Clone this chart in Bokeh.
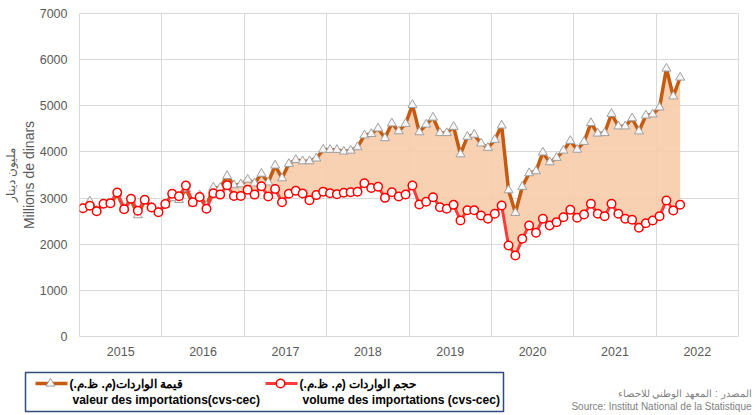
from bokeh.plotting import figure
from bokeh.models import Range1d, FixedTicker, LinearAxis
from bokeh.layouts import column, row
from bokeh.embed import file_html
from bokeh.resources import INLINE
from bokeh.core.properties import value

# ---- data (monthly, Jan 2015 - Apr 2022), millions of dinars ----
years = ["2015", "2016", "2017", "2018", "2019", "2020", "2021", "2022"]

valeur_2015 = [2780, 2930, 2730, 2860, 2880, 3090, 2770, 2960, 2630, 2950, 2800, 2700]
valeur_2016 = [2850, 3000, 2960, 3200, 2880, 3060, 2830, 3230, 3220, 3480, 3280, 3300]
valeur_2017 = [3400, 3320, 3530, 3340, 3706, 3430, 3742, 3829, 3800, 3800, 3860, 4050]
valeur_2018 = [4046, 4046, 4010, 4030, 4104, 4360, 4390, 4510, 4300, 4620, 4450, 4610]
valeur_2019 = [5020, 4428, 4595, 4745, 4410, 4410, 4545, 3950, 4330, 4375, 4185, 4090]
valeur_2020 = [4263, 4573, 3170, 2680, 3245, 3540, 3583, 3990, 3778, 3873, 4030, 4240]
valeur_2021 = [4050, 4220, 4627, 4400, 4410, 4827, 4555, 4555, 4731, 4447, 4790, 4815]
valeur_2022 = [4965, 5808, 5205, 5613]

volume_2015 = [2781, 2832, 2716, 2876, 2890, 3121, 2760, 2984, 2724, 2962, 2796, 2694]
volume_2016 = [2870, 3095, 3040, 3273, 2910, 3025, 2768, 3106, 3075, 3277, 3045, 3045]
volume_2017 = [3179, 3075, 3255, 3034, 3197, 2911, 3093, 3157, 3100, 2955, 3064, 3139]
volume_2018 = [3106, 3085, 3117, 3128, 3136, 3323, 3218, 3244, 3005, 3128, 3034, 3078]
volume_2019 = [3273, 2861, 2922, 3019, 2802, 2768, 2853, 2514, 2738, 2738, 2622, 2551]
volume_2020 = [2659, 2839, 1972, 1756, 2117, 2406, 2247, 2551, 2406, 2478, 2586, 2746]
volume_2021 = [2572, 2644, 2876, 2659, 2608, 2876, 2659, 2551, 2529, 2356, 2456, 2514]
volume_2022 = [2608, 2948, 2731, 2854]

y_ticks = [0, 1000, 2000, 3000, 4000, 5000, 6000, 7000]

label_valeur_ar = "قيمة  الواردات(م. ظ.م.)"
label_valeur_fr = "valeur des importations(cvs-cec)"
label_volume_ar = "حجم الواردات (م. ظ.م.)"
label_volume_fr = "volume des importations (cvs-cec)"
y_title_ar = "مليون دينار"
y_title_fr = "Millions de dinars"
source_ar = "المصدر : المعهد الوطني للاحصاء"
source_fr = "Source: Institut National de la Statistique"

valeur = (valeur_2015 + valeur_2016 + valeur_2017 + valeur_2018 +
          valeur_2019 + valeur_2020 + valeur_2021 + valeur_2022)
volume = (volume_2015 + volume_2016 + volume_2017 + volume_2018 +
          volume_2019 + volume_2020 + volume_2021 + volume_2022)
x = [m + 0.5 for m in range(len(valeur))]
n_months = 12 * len(years)

FONT = "Liberation Sans"
C_VAL = "#C55A11"
C_VOL = "#FF3B3B"
C_FILL = "#F7CBAA"
W = 754

# ---- main chart ----
p = figure(width=W, height=364, output_backend="svg", toolbar_location=None,
           x_range=Range1d(0, n_months), y_range=Range1d(0, 7000),
           min_border_left=79, min_border_right=W - 738, min_border_top=13,
           min_border_bottom=28)
p.outline_line_color = "#D9D9D9"
p.background_fill_color = "white"
p.border_fill_color = "white"

p.xgrid.ticker = FixedTicker(ticks=list(range(0, n_months + 1, 12)))
p.ygrid.ticker = FixedTicker(ticks=y_ticks)
for g in (p.xgrid, p.ygrid):
    g.grid_line_color = "#D9D9D9"
    g.grid_line_width = 1

p.xaxis.ticker = FixedTicker(ticks=[12 * i + 6 for i in range(len(years))])
p.xaxis.major_label_overrides = {12 * i + 6: y for i, y in enumerate(years)}
p.yaxis.ticker = FixedTicker(ticks=y_ticks)

# outer axis carrying only the Arabic title
ar_axis = LinearAxis(ticker=FixedTicker(ticks=[]), axis_label=y_title_ar)
p.add_layout(ar_axis, "left")

for ax in (p.xaxis[0], p.yaxis[0], ar_axis):
    ax.axis_line_color = None
    ax.major_tick_line_color = None
    ax.minor_tick_line_color = None
    ax.major_tick_out = 0
    ax.major_tick_in = 0
    ax.minor_tick_out = 0
    ax.major_label_text_font = FONT
    ax.major_label_text_font_size = "12.5px"
    ax.major_label_text_color = "#595959"
    ax.axis_label_text_font = FONT
    ax.axis_label_text_font_style = "normal"
    ax.axis_label_text_color = "#595959"
p.yaxis[0].major_label_standoff = 12
p.xaxis[0].major_label_standoff = 10
p.yaxis[0].axis_label = y_title_fr
p.yaxis[0].axis_label_text_font_size = "14px"
p.yaxis[0].axis_label_standoff = 0
ar_axis.axis_label_text_font_size = "12px"
ar_axis.axis_label_standoff = 0
ar_axis.major_label_standoff = 0

p.varea(x=x, y1=volume, y2=valeur, fill_color=C_FILL, fill_alpha=0.9)
p.line(x, valeur, line_color=C_VAL, line_width=3.5)
p.scatter(x, valeur, marker="triangle", size=9, fill_color="#F7F7F7",
          line_color="#A0A0A0", line_width=1)
p.line(x, volume, line_color=C_VOL, line_width=3)
p.scatter(x, volume, marker="circle", size=8.5, fill_color="white",
          line_color="#FF0000", line_width=1.5)

# ---- legend + source strip ----
H2 = 50
leg = figure(width=W, height=H2, output_backend="svg", toolbar_location=None,
             x_range=Range1d(0, W), y_range=Range1d(H2, 0),
             x_axis_location=None, y_axis_location=None,
             min_border=0, min_border_left=0, min_border_right=0,
             min_border_top=0, min_border_bottom=0)
leg.grid.visible = False
leg.outline_line_color = None
leg.background_fill_color = "white"
leg.border_fill_color = "white"

leg.quad(left=[25], right=[503], top=[8], bottom=[47], fill_color=None,
         line_color="#2F4B7C", line_width=1.5)

leg.line([35, 67], [19, 19], line_color=C_VAL, line_width=3.5)
leg.scatter([50], [19], marker="triangle", size=9, fill_color="#F7F7F7",
            line_color="#A0A0A0", line_width=1)
leg.line([265, 297], [19, 19], line_color=C_VOL, line_width=3)
leg.scatter([280], [19], marker="circle", size=8.5, fill_color="white",
            line_color="#FF0000", line_width=1.5)

leg.text(x=[69, 72, 299, 302], y=[19, 35, 19, 35],
         text=[label_valeur_ar, label_valeur_fr, label_volume_ar, label_volume_fr],
         text_font=value(FONT), text_font_size="12px", text_font_style="bold",
         text_color="black", text_align="left", text_baseline="middle")

leg.text(x=[751, 751], y=[28.5, 42], text=[source_ar, source_fr],
         text_font=value(FONT), text_font_size="10px", text_color="#7F7F7F",
         text_align="right", text_baseline="middle")

layout = column(p, row(leg))
open("out.html", "w").write(file_html(layout, INLINE))
